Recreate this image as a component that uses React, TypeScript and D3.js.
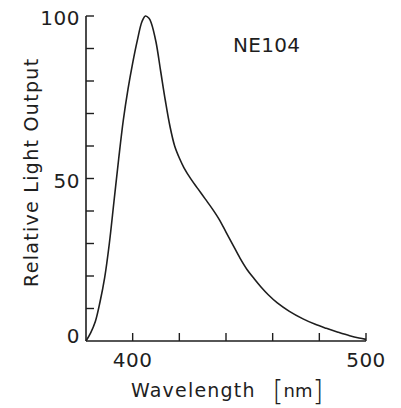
import React from "react";
import * as d3 from "d3";

const wavelengths = [380, 382, 384, 386, 388, 390, 392, 394, 396, 398, 400, 402, 404, 405.5, 407, 408, 410, 412, 414, 416, 418, 420, 422, 425, 428, 431, 434, 437, 440, 443, 446, 449, 452, 455, 458, 462, 467, 473, 478, 483, 488, 493, 497, 500];
const outputs = [0, 2.5, 6, 12, 19.5, 30, 43, 56, 68, 77.5, 85.5, 92.5, 98.3, 100, 99.3, 97.8, 92, 83, 74, 66, 60, 56.3, 53.3, 49.8, 46.8, 43.8, 40.8, 37.5, 33.5, 29.5, 25.5, 22, 19.2, 16.6, 14.3, 11.7, 9.2, 6.8, 5.2, 3.9, 2.7, 1.6, 0.9, 0.5];
const xTicks = [400, 420, 440, 460, 480, 500];
const xTickLabels = [400, 500];
const yTicks = [10, 20, 30, 40, 50, 60, 70, 80, 90, 100];
const yTickLabels = [0, 50, 100];
const seriesLabel = "NE104";
const xTitle = "Wavelength";
const xUnit = "nm";
const yTitle = "Relative Light Output";

const W = 401;
const H = 408;
const FONT = "DejaVu Sans";
const INK = "#1e1e1e";

export default function App() {
  const x = d3.scaleLinear().domain([380, 500]).range([86, 366]);
  const y = d3.scaleLinear().domain([0, 100]).range([341, 16]);
  const pts: [number, number][] = wavelengths.map((w, i) => [w, outputs[i]]);
  const line = d3
    .line<[number, number]>()
    .x((d) => x(d[0]))
    .y((d) => y(d[1]))
    .curve(d3.curveCatmullRom.alpha(0.5));

  return (
    <svg
      width={W}
      height={H}
      style={{ position: "absolute", left: 0, top: 0, background: "#fff" }}
    >
      <rect x={0} y={0} width={W} height={H} fill="#fff" />
      {/* axes */}
      <line x1={x(380)} x2={x(380)} y1={y(0)} y2={y(100)} stroke={INK} strokeWidth={1.6} />
      <line x1={x(380)} x2={x(500)} y1={y(0)} y2={y(0)} stroke={INK} strokeWidth={1.6} />
      {yTicks.map((t) => (
        <line key={"yt" + t} x1={x(380)} x2={x(380) + 8} y1={y(t)} y2={y(t)} stroke={INK} strokeWidth={1.4} />
      ))}
      {xTicks.map((t) => (
        <line key={"xt" + t} x1={x(t)} x2={x(t)} y1={y(0)} y2={y(0) - 8} stroke={INK} strokeWidth={1.4} />
      ))}
      {yTickLabels.map((t) => (
        <text
          key={"yl" + t}
          x={80}
          y={Math.min(y(t) + 9, 343)}
          textAnchor="end"
          fontFamily={FONT}
          fontSize={20}
          letterSpacing={0.5}
          fill={INK}
        >
          {t}
        </text>
      ))}
      {xTickLabels.map((t) => (
        <text
          key={"xl" + t}
          x={x(t)}
          y={366.5}
          textAnchor="middle"
          fontFamily={FONT}
          fontSize={20}
          letterSpacing={0.5}
          fill={INK}
        >
          {t}
        </text>
      ))}
      {/* curve */}
      <path d={line(pts) || ""} fill="none" stroke={INK} strokeWidth={1.6} />
      {/* series label */}
      <text x={233} y={51.5} fontFamily={FONT} fontSize={20} letterSpacing={0.3} fill={INK}>
        {seriesLabel}
      </text>
      {/* x title */}
      <text x={131} y={396.5} fontFamily={FONT} fontSize={19} letterSpacing={1.2} fill={INK}>
        {xTitle}
      </text>
      <text x={272.5} y={401} fontFamily={FONT} fontSize={28} fontWeight={300} fill={INK}>
        [
      </text>
      <text x={283.5} y={396.5} fontFamily={FONT} fontSize={18} fill={INK}>
        {xUnit}
      </text>
      <text x={312.6} y={401} fontFamily={FONT} fontSize={28} fontWeight={300} fill={INK}>
        ]
      </text>
      {/* y title */}
      <text
        transform="translate(38,287) rotate(-90)"
        fontFamily={FONT}
        fontSize={19}
        letterSpacing={1.3}
        fill={INK}
      >
        {yTitle}
      </text>
    </svg>
  );
}
